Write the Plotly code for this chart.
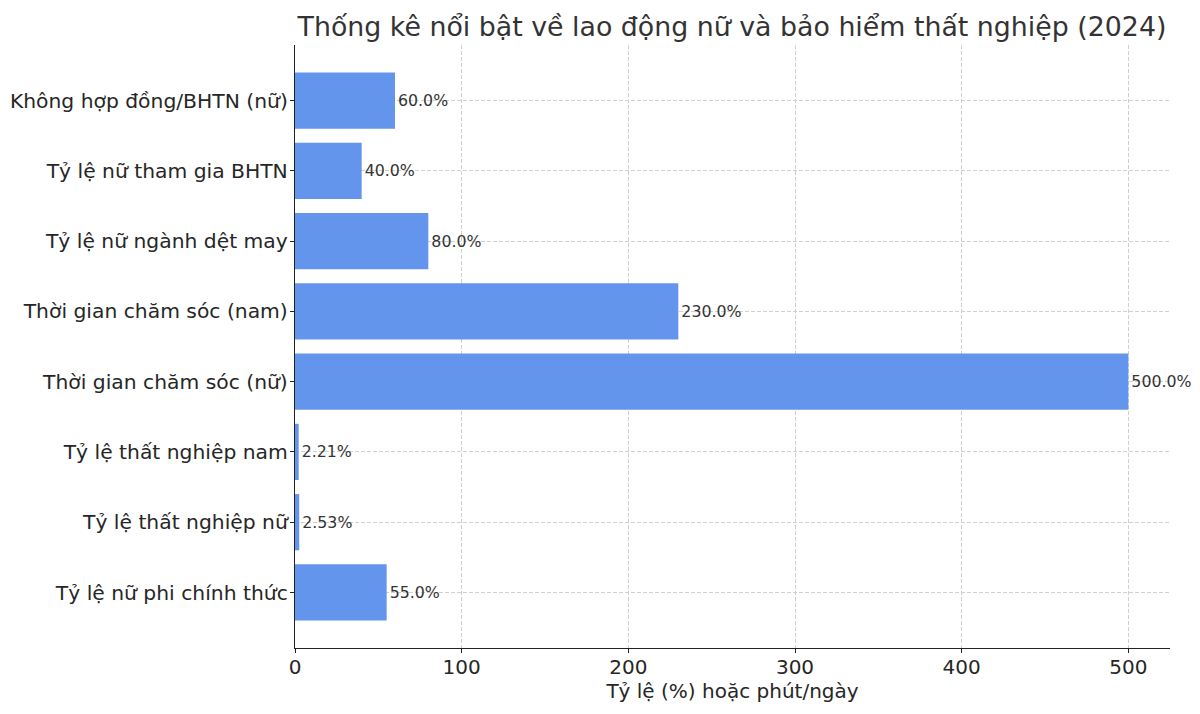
import plotly.graph_objects as go

categories = [
    "Không hợp đồng/BHTN (nữ)",
    "Tỷ lệ nữ tham gia BHTN",
    "Tỷ lệ nữ ngành dệt may",
    "Thời gian chăm sóc (nam)",
    "Thời gian chăm sóc (nữ)",
    "Tỷ lệ thất nghiệp nam",
    "Tỷ lệ thất nghiệp nữ",
    "Tỷ lệ nữ phi chính thức",
]
values = [60.0, 40.0, 80.0, 230.0, 500.0, 2.21, 2.53, 55.0]
labels = ["60.0%", "40.0%", "80.0%", "230.0%", "500.0%", "2.21%", "2.53%", "55.0%"]
x_ticks = [0, 100, 200, 300, 400, 500]

font_family = "DejaVu Sans, Verdana, sans-serif"

W, H = 1192, 706

fig = go.Figure(
    go.Bar(
        y=categories,
        x=values,
        orientation="h",
        width=0.8,
        marker=dict(color="#6495ED", line=dict(width=0)),
        text=labels,
        textposition="outside",
        cliponaxis=False,
        textfont=dict(size=15.8, color="#333333", family=font_family),
        hoverinfo="x+y",
    )
)

fig.update_layout(
    width=W,
    height=H,
    paper_bgcolor="white",
    plot_bgcolor="white",
    margin=dict(l=287, r=30, t=37, b=66, autoexpand=False),
    font=dict(family=font_family, color="#262626"),
    title=dict(
        text="Thống kê nổi bật về lao động nữ và bảo hiểm thất nghiệp (2024)",
        x=724 / W,
        xanchor="center",
        y=1 - 19 / H,
        yanchor="middle",
        font=dict(size=26.8, color="#333333", family=font_family),
    ),
    showlegend=False,
    bargap=0.2,
)

fig.update_xaxes(
    range=[0, 525],
    tickvals=x_ticks,
    ticktext=[str(t) for t in x_ticks],
    automargin=False,
    showgrid=True,
    gridcolor="#d0d0d0",
    griddash="4px,2px",
    gridwidth=1,
    zeroline=False,
    showline=True,
    linecolor="#222222",
    linewidth=1.3,
    ticks="outside",
    ticklen=4,
    tickcolor="#222222",
    ticklabelstandoff=-3,
    tickfont=dict(size=20, color="#262626"),
    title=dict(text="Tỷ lệ (%) hoặc phút/ngày", font=dict(size=20, color="#262626"), standoff=2),
)

fig.update_yaxes(
    range=[7.79, -0.79],
    automargin=False,
    showgrid=True,
    gridcolor="#d0d0d0",
    griddash="4px,2px",
    gridwidth=1,
    showline=True,
    linecolor="#222222",
    linewidth=1.3,
    ticks="outside",
    ticklen=4,
    tickcolor="#222222",
    ticklabelstandoff=-2,
    tickfont=dict(size=20.3, color="#262626"),
)

fig.write_html("out.html")
